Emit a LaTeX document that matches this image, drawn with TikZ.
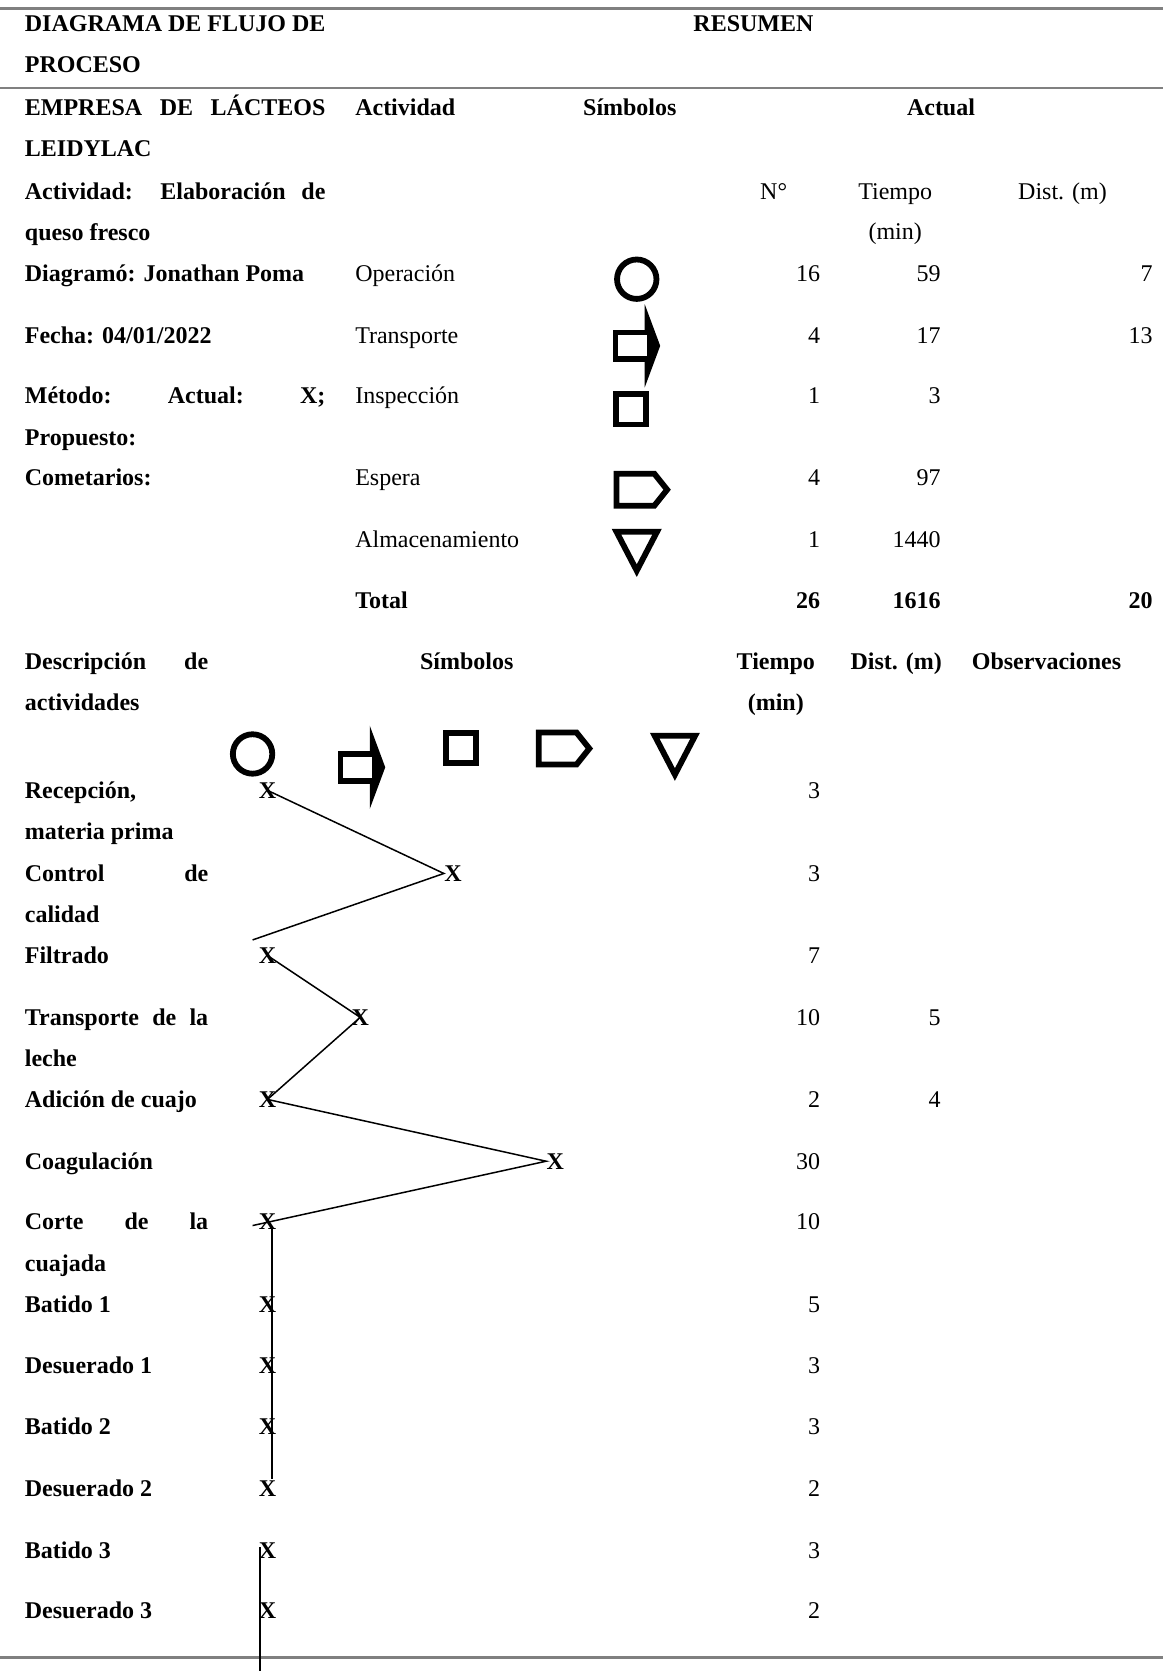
\documentclass[tikz,border=0pt]{standalone}
\usepackage{fontspec}
\setmainfont{Liberation Serif}
\usetikzlibrary{positioning}
\newcommand\txtfont{\fontsize{12}{20.6}\selectfont}
\hyphenpenalty=10000
\tolerance=10000
\hbadness=10000

\begin{document}
\begin{tikzpicture}[
  x=0.533pt, y=-0.533pt,
  every node/.style={inner sep=0pt},
  tl/.style={anchor=base west, font=\txtfont},
  tc/.style={anchor=base, font=\txtfont},
  tr/.style={anchor=base east, font=\txtfont},
  bf/.style={font=\txtfont\bfseries},
  hdbox/.style={anchor=base west, font=\txtfont\bfseries,
    text width=150.3pt, align=justify},
  desc/.style={anchor=base west, font=\txtfont\bfseries,
    text width=91.7pt, align=justify},
  xm/.style={anchor=base, font=\txtfont\bfseries},
  sym/.style={line width=2.9pt},
  flow/.style={line width=0.75pt},
  rule/.style={black!50, line width=1.3pt},
  operacion/.pic={\draw[sym] (0,0) circle[radius=18.5];},
  transporte/.pic={
    \fill (0,-39) -- (14.5,0) -- (0,39) -- cycle;
    \draw[sym, fill=white] (-27.5,-12.5) rectangle (4.5,12.5);
  },
  inspeccion/.pic={\draw[sym] (-14.25,-14.25) rectangle (14.25,14.25);},
  espera/.pic={\draw[sym] (-24.5,-15) -- (11,-15) -- (23,0) -- (11,15) -- (-24.5,15) -- cycle;},
  almacen/.pic={\draw[sym] (-19,-19.5) -- (19,-19.5) -- (0,17) -- cycle;}
]
\useasboundingbox (0,0) rectangle (1091,1568);

% Rules
\draw[rule] (0,8) -- (1091,8);
\draw[rule] (0,82.5) -- (1091,82.5);
\draw[rule] (0,1555.5) -- (1091,1555.5);

% Header
\node[tl,bf] (titulo) at (23,30) {DIAGRAMA DE FLUJO DE};
\node[tl,bf] (titulo2) at (23,68) {PROCESO};
\node[tc,bf] (resumen) at (707,30) {RESUMEN};

\node[hdbox] (empresa) at (23,108) {EMPRESA DE LÁCTEOS\linebreak LEIDYLAC};
\node[hdbox] (activ) at (23,187) {Actividad: Elaboración de\linebreak queso fresco};
\node[tl,bf] (diag) at (23,264) {Diagramó: Jonathan Poma};
\node[tl,bf] (fecha) at (23,322) {Fecha: 04/01/2022};
\node[hdbox] (metodo) at (23,379) {Método: Actual: X;\linebreak Propuesto:};
\node[tl,bf] (coment) at (23,456) {Cometarios:};

\node[tl,bf] (h-act) at (333,108) {Actividad};
\node[tc,bf] (h-sim) at (591,108) {Símbolos};
\node[tc,bf] (h-actual) at (883,108) {Actual};
\node[tc] (h-n) at (726,187) {N°};
\node[tc] (h-t) at (840,187) {Tiempo};
\node[tc] (h-min) at (840,225) {(min)};
\node[tc] (h-d) at (997,187) {Dist. (m)};

% Summary
\node[tl] (op) at (333,264) {Operación};
\pic at (597.5,262) {operacion};
\node[tr] (op-n) at (770,264) {16};
\node[tr] (op-t) at (883,264) {59};
\node[tr] (op-d) at (1082,264) {7};

\node[tl] (tp) at (333,322) {Transporte};
\pic at (605,324.5) {transporte};
\node[tr] (tp-n) at (770,322) {4};
\node[tr] (tp-t) at (883,322) {17};
\node[tr] (tp-d) at (1082,322) {13};

\node[tl] (insp) at (333,379) {Inspección};
\pic at (592,384) {inspeccion};
\node[tr] (insp-n) at (770,379) {1};
\node[tr] (insp-t) at (883,379) {3};

\node[tl] (esp) at (333,456) {Espera};
\pic at (603,459.5) {espera};
\node[tr] (esp-n) at (770,456) {4};
\node[tr] (esp-t) at (883,456) {97};

\node[tl] (alm) at (333,514) {Almacenamiento};
\pic at (597.5,518.5) {almacen};
\node[tr] (alm-n) at (770,514) {1};
\node[tr] (alm-t) at (883,514) {1440};

\node[tl,bf] (tot) at (333,571) {Total};
\node[tr,bf] (tot-n) at (770,571) {26};
\node[tr,bf] (tot-t) at (883,571) {1616};
\node[tr,bf] (tot-d) at (1082,571) {20};

% Process header
\node[desc] (h-desc) at (23,628) {Descripción de\linebreak actividades};
\node[tc,bf] (h-sim2) at (438,628) {Símbolos};
\node[tc,bf] (h-t2) at (728,628) {Tiempo};
\node[tc,bf] (h-min2) at (728,667) {(min)};
\node[tc,bf] (h-d2) at (841,628) {Dist. (m)};
\node[tc,bf] (h-obs) at (982,628) {Observaciones};

\pic at (237,707.5) {operacion};
\pic at (347,720) {transporte};
\pic at (432.5,702) {inspeccion};
\pic at (530,702.4) {espera};
\pic at (633.3,709.8) {almacen};

% Process rows
\foreach \n/\txt/\y/\cx/\t in {
  rec/{Recepción,\linebreak materia prima}/749/251/3,
  cal/{Control de\linebreak calidad}/827/425/3,
  fil/Filtrado/904/251/7,
  tra/{Transporte de la\linebreak leche}/962/338/10,
  adi/Adición de cuajo/1039/251/2,
  coa/Coagulación/1097/521/30,
  cor/{Corte de la\linebreak cuajada}/1154/251/10,
  ba1/Batido 1/1232/251/5,
  de1/Desuerado 1/1289/251/3,
  ba2/Batido 2/1346/251/3,
  de2/Desuerado 2/1404/251/2,
  ba3/Batido 3/1462/251/3,
  de3/Desuerado 3/1519/251/2}{
  \node[desc] (\n) at (23,\y) {\txt};
  \node[xm] (\n-x) at (\cx,\y) {X};
  \node[tr] (\n-t) at (770,\y) {\t};
}
\node[tr] (tra-d) at (883,962) {5};
\node[tr] (adi-d) at (883,1039) {4};

% Flow line
\coordinate (q1) at (237,882);
\coordinate (q2) at (237,1150);
\coordinate (v1) at (255,1150);
\coordinate (v2) at (255,1388);
\coordinate (v3) at (244,1452);
\coordinate (v4) at (244,1568);

\draw[flow] (rec-x.center) -- (cal-x.west) -- (q1);
\draw[flow] (fil-x.center) -- (tra-x.center) -- (adi-x.center) -- (coa-x.west) -- (q2);
\draw[flow] (v1) -- (v2);
\draw[flow] (v3) -- (v4);

\end{tikzpicture}
\end{document}
